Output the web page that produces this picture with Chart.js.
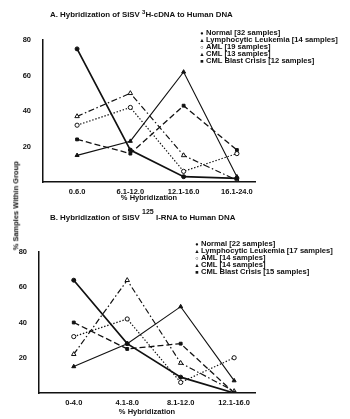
<!DOCTYPE html>
<html><head><meta charset="utf-8">
<script src="https://cdn.jsdelivr.net/npm/chart.js@4"></script>
<style>
html,body{margin:0;padding:0;background:#fff;}
body{width:350px;height:419px;position:relative;overflow:hidden;font-family:"Liberation Sans",Arial,sans-serif;font-weight:bold;color:#111;}
canvas{position:absolute;left:0;}
.t{position:absolute;white-space:nowrap;line-height:1;}
.title{font-size:7.9px;}
.title sup{font-size:6px;vertical-align:0;position:relative;top:-3px;}
.leg{font-size:7.6px;}
.leg .m{display:inline-block;width:6px;font-size:5.5px;text-align:center;margin-right:1px;}
.ytitle{font-size:7.5px;transform:rotate(-90deg);transform-origin:center center;}
</style></head><body>
<canvas id="ca" style="top:0" width="350" height="205"></canvas>
<canvas id="cb" style="top:205px" width="350" height="214"></canvas>
<div class="t title" style="left:50px;top:11px">A. Hybridization of SiSV <sup>3</sup>H-cDNA to Human DNA</div>
<div class="t title" style="left:50px;top:214px">B. Hybridization of SiSV <sup style="font-size:7px;top:-6px">125</sup> I-RNA to Human DNA</div>
<div id="legA"></div>
<div id="legB"></div>
<div class="t ytitle" style="left:-30px;top:202px;width:92px;text-align:center">% Samples Within Group</div>
<script>
// ---- data ----
const categoriesA = ['0.6.0', '6.1-12.0', '12.1-16.0', '16.1-24.0'];
const categoriesB = ['0-4.0', '4.1-8.0', '8.1-12.0', '12.1-16.0'];
const yTicks = [20, 40, 60, 80];
const seriesNames = ['Normal', 'Lymphocytic Leukemia', 'AML', 'CML', 'CML Blast Crisis'];
const samplesA = [32, 14, 19, 13, 12];
const samplesB = [22, 17, 14, 14, 15];
const normalA = [75, 18, 3, 2];
const lymphA  = [37, 50, 15, 1];
const amlA    = [32, 42, 6, 16];
const cmlA    = [15, 23, 62, 3];
const blastA  = [24, 16, 43, 18];
const normalB = [64, 28, 9, 0];
const lymphB  = [22, 64, 17, 1];
const amlB    = [32, 42, 6, 20];
const cmlB    = [15, 28, 49, 7];
const blastB  = [40, 25, 28, 0];

// ---- styles ----
const FONT = '"Liberation Sans", Arial, sans-serif';
const INK = '#111';
const styles = [
  {w:1.7, dash:[], ps:'circle', r:2, bg:INK, mark:'\u25CF'},
  {w:1.2, dash:[6,2.5,1.5,2.5], ps:'triangle', r:2.6, bg:'#fff', mark:'\u25B2'},
  {w:1.2, dash:[1.4,1.8], ps:'circle', r:2.1, bg:'#fff', mark:'\u25CB'},
  {w:1.1, dash:[], ps:'triangle', r:2.3, bg:INK, mark:'\u25B2'},
  {w:1.3, dash:[6,3], ps:'rect', r:2, bg:INK, mark:'\u25A0'}
];

function makeChart(id, cats, series, g) {
  const datasets = series.map((vals, k) => ({
    label: seriesNames[k],
    data: vals.map((v, i) => ({x: i, y: v})),
    borderColor: INK, borderWidth: styles[k].w, borderDash: styles[k].dash,
    pointStyle: styles[k].ps, pointRadius: styles[k].r, pointBorderWidth: 1,
    pointBackgroundColor: styles[k].bg, pointBorderColor: INK,
    tension: 0, fill: false
  }));
  const tickFont = {family: FONT, size: 7.5, weight: 'bold'};
  return new Chart(document.getElementById(id), {
    type: 'line',
    data: {datasets},
    options: {
      responsive: false, animation: false, devicePixelRatio: 1,
      layout: {padding: {top: g.top, right: g.right, left: 0, bottom: 0}},
      plugins: {legend: {display: false}, tooltip: {enabled: false}},
      scales: {
        x: {
          type: 'linear', min: g.xmin, max: g.xmax,
          afterBuildTicks: s => { s.ticks = cats.map((c, i) => ({value: i})); },
          afterFit: s => { s.height = g.xh; },
          grid: {display: false},
          border: {display: true, color: INK, width: 1.5},
          ticks: {callback: v => cats[v], padding: g.tp, color: INK, font: tickFont, maxRotation: 0, autoSkip: false},
          title: {display: true, text: '% Hybridization', color: INK,
                  font: {family: FONT, size: 7.5, weight: 'bold'}, padding: {top: 0, bottom: g.ttp}}
        },
        y: {
          min: 0, max: 80,
          afterBuildTicks: s => { s.ticks = yTicks.map(v => ({value: v})); },
          afterFit: s => { s.width = g.left; },
          grid: {display: false},
          border: {display: true, color: INK, width: 1.5},
          ticks: {padding: 4, color: INK, font: tickFont}
        }
      }
    }
  });
}

makeChart('ca', categoriesA, [normalA, lymphA, amlA, cmlA, blastA],
  {top: 40, right: 95, left: 43, xh: 23, xmin: -0.64, xmax: 3.34, tp: -3, ttp: 3});
makeChart('cb', categoriesB, [normalB, lymphB, amlB, cmlB, blastB],
  {top: 47, right: 95, left: 39, xh: 26, xmin: -0.65, xmax: 3.39, tp: -3, ttp: 3});

function legend(id, samples, x, y0) {
  const el = document.getElementById(id);
  seriesNames.forEach((n, k) => {
    const d = document.createElement('div');
    d.className = 't leg';
    d.style.left = x + 'px';
    d.style.top = (y0 + k * 7) + 'px';
    d.innerHTML = '<span class="m">' + styles[k].mark + '</span>' + n + ' [' + samples[k] + ' samples]';
    el.appendChild(d);
  });
}
legend('legA', samplesA, 199, 29);
legend('legB', samplesB, 194, 240);
</script>
</body></html>
